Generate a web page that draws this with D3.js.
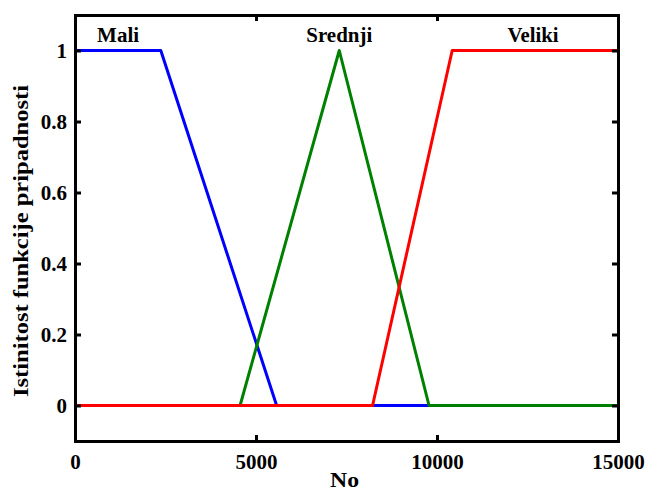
<!DOCTYPE html>
<html>
<head>
<meta charset="utf-8">
<script src="https://cdn.jsdelivr.net/npm/d3@7"></script>
<style>
    body { margin: 0; background: #fff; }
    svg text { font-family: "Liberation Serif", "Times New Roman", serif !important; font-weight: bold; fill: #000; }
</style>
</head>
<body>
<svg id="canvas"></svg>
<script>
// membership functions, breakpoints
const maliX = [0, 2370, 5570, 15000];
const maliY = [1, 1, 0, 0];
const srednjiX = [0, 4560, 7300, 9780, 15000];
const srednjiY = [0, 0, 1, 0, 0];
const velikiX = [0, 8220, 10420, 15000];
const velikiY = [0, 0, 1, 1];

const seriesNames = ["Mali", "Srednji", "Veliki"];
const labelX = [1190, 7300, 12650];
const labelY = [1.025, 1.025, 1.025];

const xTicks = [0, 5000, 10000, 15000];
const yTicks = [0, 0.2, 0.4, 0.6, 0.8, 1];

const COLORS = ["#0000ff", "#008000", "#ff0000"];

const width = 651;
const height = 493;
const margin = { top: 15, right: 33, bottom: 52, left: 75 };

const svg = d3.select("#canvas")
    .attr("width", width)
    .attr("height", height);

const x = d3.scaleLinear()
    .domain([0, 15000])
    .range([margin.left, width - margin.right]);

const y = d3.scaleLinear()
    .domain([-0.1, 1.1])
    .range([height - margin.bottom, margin.top]);

const series = [
    d3.zip(maliX, maliY),
    d3.zip(srednjiX, srednjiY),
    d3.zip(velikiX, velikiY)
];

const line = d3.line()
    .x(d => x(d[0]))
    .y(d => y(d[1]));

svg.selectAll(".mf")
    .data(series)
    .enter()
    .append("path")
    .attr("class", "mf")
    .attr("d", line)
    .attr("fill", "none")
    .attr("stroke", (d, i) => COLORS[i])
    .attr("stroke-width", 3)
    .attr("stroke-linejoin", "round");

// axes, MATLAB style: ticks inside on all four sides
const tickLen = 6;
const fmtY = d => d3.format("~g")(d);

svg.append("g")
    .attr("transform", "translate(0," + y(-0.1) + ")")
    .call(d3.axisBottom(x).tickValues(xTicks).tickSize(-tickLen).tickPadding(13).tickFormat(d3.format("d")));

svg.append("g")
    .attr("transform", "translate(0," + y(1.1) + ")")
    .call(d3.axisTop(x).tickValues(xTicks).tickSize(-tickLen).tickFormat(""));

svg.append("g")
    .attr("transform", "translate(" + x(0) + ",0)")
    .call(d3.axisLeft(y).tickValues(yTicks).tickSize(-tickLen).tickPadding(8).tickFormat(fmtY));

svg.append("g")
    .attr("transform", "translate(" + x(15000) + ",0)")
    .call(d3.axisRight(y).tickValues(yTicks).tickSize(-tickLen).tickFormat(""));

svg.selectAll("g").attr("font-family", null);

svg.selectAll(".tick text")
    .style("font-size", "21px");

svg.selectAll(".domain")
    .attr("stroke", "#000")
    .attr("stroke-width", 3);

svg.selectAll(".tick line")
    .attr("stroke", "#000")
    .attr("stroke-width", 3);

const labelWidth = [42, 66, 51];

svg.selectAll(".mf-label")
    .data(seriesNames)
    .enter()
    .append("text")
    .attr("class", "mf-label")
    .attr("x", (d, i) => x(labelX[i]))
    .attr("y", (d, i) => y(labelY[i]))
    .attr("text-anchor", "middle")
    .attr("textLength", (d, i) => labelWidth[i])
    .attr("lengthAdjust", "spacingAndGlyphs")
    .style("font-size", "20px")
    .text(d => d);

svg.append("text")
    .attr("x", x(7500) - 2)
    .attr("y", 487)
    .attr("text-anchor", "middle")
    .attr("textLength", 29)
    .attr("lengthAdjust", "spacingAndGlyphs")
    .style("font-size", "20px")
    .text("No");

svg.append("text")
    .attr("transform", "translate(28,241) rotate(-90)")
    .attr("text-anchor", "middle")
    .attr("textLength", 312)
    .attr("lengthAdjust", "spacingAndGlyphs")
    .style("font-size", "20px")
    .text("Istinitost funkcije pripadnosti");
</script>
</body>
</html>
